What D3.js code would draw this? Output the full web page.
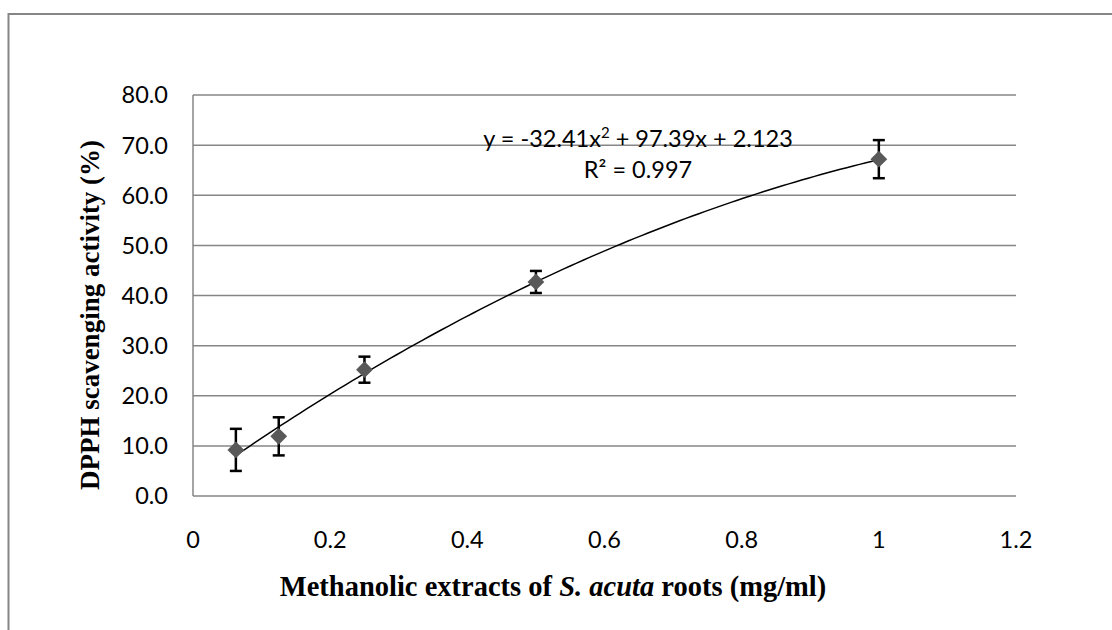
<!DOCTYPE html>
<html><head><meta charset="utf-8">
<script src="https://cdn.jsdelivr.net/npm/d3@7"></script>
<style>body{margin:0;background:#fff;}svg{display:block;}</style>
</head><body>
<svg id="c" width="1112" height="630"></svg>
<script>
const concentrations = [0.0625, 0.125, 0.25, 0.5, 1];
const activity = [9.2, 11.9, 25.2, 42.7, 67.2];
const errors = [4.2, 3.8, 2.6, 2.2, 3.8];
const xTicks = [0, 0.2, 0.4, 0.6, 0.8, 1, 1.2];
const yTicks = [0, 10, 20, 30, 40, 50, 60, 70, 80];
const coef = [-32.41, 97.39, 2.123];

const svg = d3.select("#c");
const grid = "#868686";
svg.append("rect").attr("x",8.5).attr("y",14).attr("width",1200).attr("height",700)
  .attr("fill","none").attr("stroke",grid).attr("stroke-width",2);

const x = d3.scaleLinear().domain([0,1.2]).range([193,1016]);
const y = d3.scaleLinear().domain([0,80]).range([496,95]);

// gridlines
svg.append("g").selectAll("line").data(yTicks).join("line")
  .attr("x1",x(0)).attr("x2",x(1.2)).attr("y1",d=>y(d)).attr("y2",d=>y(d))
  .attr("stroke",grid).attr("stroke-width",1.5);
svg.append("line").attr("x1",x(0)).attr("x2",x(0)).attr("y1",y(0)).attr("y2",y(80))
  .attr("stroke",grid).attr("stroke-width",1.5);

// tick labels
const tf = "Lato, 'Open Sans', sans-serif";
svg.append("g").selectAll("text").data(yTicks).join("text")
  .attr("x",168).attr("y",d=>y(d)).attr("dy","0.36em").attr("text-anchor","end")
  .attr("font-family",tf).attr("font-size",23.5).attr("fill","#000").text(d=>d.toFixed(1));
svg.append("g").selectAll("text").data(xTicks).join("text")
  .attr("x",d=>x(d)).attr("y",548).attr("text-anchor","middle")
  .attr("font-family",tf).attr("font-size",23.5).attr("fill","#000").text(d=>d3.format("")(d));

// trendline
const xs = d3.range(0, 101).map(i => concentrations[0] + (1 - concentrations[0]) * i/100);
const line = d3.line().x(d=>x(d)).y(d=>y(coef[0]*d*d + coef[1]*d + coef[2]));
svg.append("path").attr("d",line(xs)).attr("fill","none").attr("stroke","#000").attr("stroke-width",1.5);

// error bars
const eg = svg.append("g").attr("stroke","#000").attr("stroke-width",2.5);
concentrations.forEach((c,i)=>{
  const cx = x(c), t = y(activity[i]+errors[i]), b = y(activity[i]-errors[i]);
  eg.append("line").attr("x1",cx).attr("x2",cx).attr("y1",t).attr("y2",b);
  eg.append("line").attr("x1",cx-6).attr("x2",cx+6).attr("y1",t).attr("y2",t);
  eg.append("line").attr("x1",cx-6).attr("x2",cx+6).attr("y1",b).attr("y2",b);
});
// markers
svg.append("g").selectAll("path").data(concentrations).join("path")
  .attr("d", d3.symbol().type(d3.symbolDiamond2).size(180))
  .attr("transform",(d,i)=>`translate(${x(d)},${y(activity[i])})`)
  .attr("fill","#595959");

// equation
const eq = svg.append("text").attr("x",638).attr("y",147).attr("text-anchor","middle")
  .attr("font-family",tf).attr("font-size",23.5).attr("fill","#000");
eq.append("tspan").text("y = -32.41x");
eq.append("tspan").attr("dy",-9).attr("font-size",15).text("2");
eq.append("tspan").attr("dy",9).text(" + 97.39x + 2.123");
svg.append("text").attr("x",638).attr("y",178).attr("text-anchor","middle")
  .attr("font-family",tf).attr("font-size",23.5).attr("fill","#000").text("R² = 0.997");

// axis titles
const sf = "'Liberation Serif', 'Times New Roman', serif";
svg.append("text").attr("transform","translate(99,315) rotate(-90)").attr("text-anchor","middle")
  .attr("font-family",sf).attr("font-size",27).attr("font-weight","bold").text("DPPH scavenging activity (%)");
const xt = svg.append("text").attr("x",553).attr("y",596).attr("text-anchor","middle")
  .attr("font-family",sf).attr("font-size",28.5).attr("font-weight","bold");
xt.append("tspan").text("Methanolic extracts of ");
xt.append("tspan").attr("font-style","italic").text("S. acuta");
xt.append("tspan").text(" roots (mg/ml)");
</script>
</body></html>
